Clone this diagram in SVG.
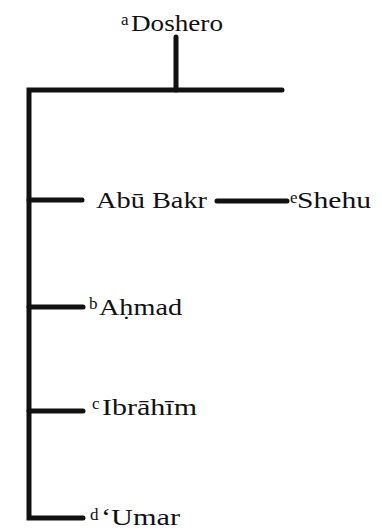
<svg xmlns="http://www.w3.org/2000/svg" width="382" height="530" viewBox="0 0 382 530">
<style>
.t{font-family:"Liberation Serif","Times New Roman",serif;font-size:23px;fill:#111}
.s{font-family:"Liberation Serif","Times New Roman",serif;font-size:17px;fill:#111}
.c{stroke:#111;stroke-width:5;fill:none;stroke-linecap:round;stroke-linejoin:miter}
</style>
<rect width="382" height="530" fill="#fff"/>
<g id="connectors">
<path class="c" d="M176,37 V90"/>
<path class="c" d="M282,90 H29 V518 H83"/>
<path class="c" d="M29,200 H82"/>
<path class="c" d="M29,307 H83"/>
<path class="c" d="M29,411 H83"/>
<path class="c" d="M217,201 H287"/>
</g>
<g id="doshero"><text class="s" x="121" y="25">a</text><text class="t" x="131" y="31" textLength="92" lengthAdjust="spacingAndGlyphs">Doshero</text></g>
<g id="abubakr"><text class="t" x="96" y="208" textLength="111" lengthAdjust="spacingAndGlyphs">Abū Bakr</text></g>
<g id="shehu"><text class="s" x="290" y="203">e</text><text class="t" x="297" y="208" textLength="74" lengthAdjust="spacingAndGlyphs">Shehu</text></g>
<g id="ahmad"><text class="s" x="89" y="309">b</text><text class="t" x="99" y="315" textLength="83" lengthAdjust="spacingAndGlyphs">Aḥmad</text></g>
<g id="ibrahim"><text class="s" x="92" y="409">c</text><text class="t" x="102" y="415" textLength="95" lengthAdjust="spacingAndGlyphs">Ibrāhīm</text></g>
<g id="umar"><text class="s" x="90" y="520">d</text><text class="t" x="101" y="525" textLength="79" lengthAdjust="spacingAndGlyphs">‘Umar</text></g>
</svg>
